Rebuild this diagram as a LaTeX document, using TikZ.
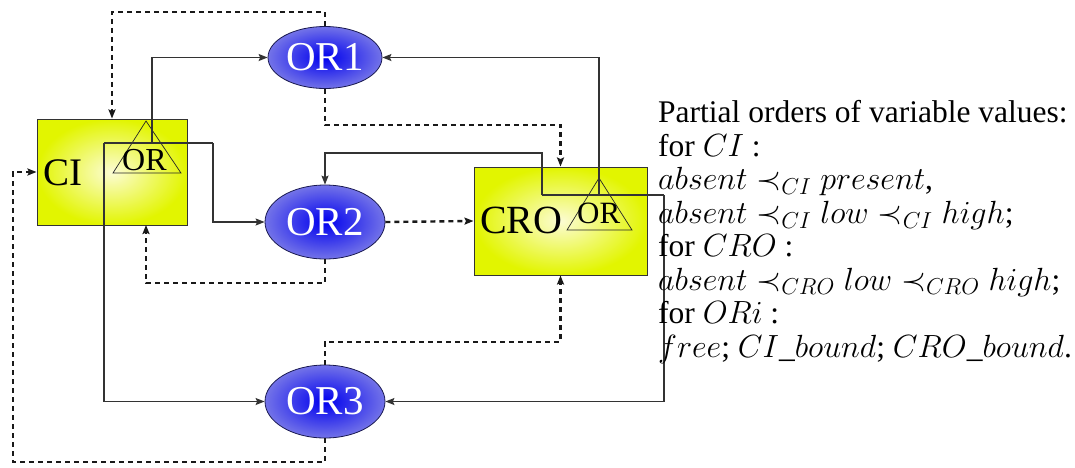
\RequirePackage{fix-cm}
\documentclass[tikz,border=0pt]{standalone}
\usepackage{fontspec}
\setmainfont{Liberation Serif}
\DeclareMathSizes{31.5}{32.1}{23}{17}
\usetikzlibrary{arrows.meta,shapes.geometric}
\begin{document}
\begin{tikzpicture}[x=1pt,y=-1pt,
  box/.style={rectangle, draw=black!80, line width=1pt, inner sep=0pt,
    inner color={rgb,255:red,252;green,252;blue,212},
    outer color={rgb,255:red,226;green,245;blue,0}},
  ell/.style={ellipse, draw={rgb,255:red,25;green,25;blue,80}, line width=0.8pt, inner sep=0pt,
    inner color={rgb,255:red,0;green,0;blue,238},
    outer color={rgb,255:red,115;green,115;blue,232},
    text=white, font=\fontsize{41}{41}\selectfont},
  lbl/.style={inner sep=0pt, anchor=base west, text=black},
  tri/.style={draw=black!85, line width=0.7pt},
  sol/.style={draw=black!80, line width=1.2pt, -{Stealth[length=9pt,width=7pt,inset=1.5pt]}},
  sollink/.style={draw=black!80, line width=1.2pt},
  dsh/.style={draw=black!90, line width=2.4pt, dash pattern=on 5pt off 4pt,
    -{Stealth[length=9pt,width=7pt,inset=1.5pt]}}
]
\useasboundingbox (0,0) rectangle (1075,467);

% boxes
\node[box, minimum width=150pt, minimum height=106pt] (ci) at (112,172) {};
\node[box, minimum width=173pt, minimum height=108pt] (cro) at (560.5,221) {};
\node[lbl, font=\fontsize{39}{39}\selectfont] (citxt) at (43,185) {CI};
\node[lbl, font=\fontsize{40}{40}\selectfont] (crotxt) at (480,233) {CRO};

% triangles with OR
\draw[tri] (146,121) -- (113,173) -- (181,173) -- cycle;
\node[lbl, font=\fontsize{32}{32}\selectfont] (ciortxt) at (122,170) {OR};
\draw[tri] (599,178) -- (567,230) -- (632,230) -- cycle;
\node[lbl, font=\fontsize{31}{31}\selectfont] (crortxt) at (577,223) {OR};

% ellipses
\node[ell, minimum width=114pt, minimum height=62pt] (or1) at (325,57.5) {OR1};
\node[ell, minimum width=120pt, minimum height=74pt] (or2) at (325,222) {OR2};
\node[ell, minimum width=120pt, minimum height=73pt] (or3) at (325,401.5) {OR3};

% fork coordinates
\coordinate (cif1) at (152,143);
\coordinate (cif2) at (104,143);
\coordinate (cif3) at (213,143);
\coordinate (crf1) at (599,195);
\coordinate (crf2) at (542,195);
\coordinate (crf3) at (664,195);
\coordinate (cib) at (146,225);

% solid connectors
\draw[sol] (cif1) |- (or1.west);
\draw[sollink] (cif2) -- (cif3);
\draw[sol] (cif3) |- (or2.west);
\draw[sol] (cif2) |- (or3.west);
\draw[sol] (crf1) |- (or1.east);
\draw[sollink] (crf2) -- (crf3);
\draw[sol] (crf3) |- (or3.east);
\draw[sol] (crf2) -- (542,153) -| (or2.north);

% dashed connectors
\draw[dsh] (or1.north) -- (325,12) -| (ci.north);
\draw[dsh] (or1.south) -- (325,125) -| (cro.north);
\draw[dsh] (or2.east) -- (cro.west);
\draw[dsh] (or2.south) -- (325,283) -| (cib);
\draw[dsh] (or3.north) -- (325,342) -| (cro.south);
\draw[dsh] (or3.south) -- (325,462) -- (13,462) -- (13,172) -- (ci.west);

% legend (base anchor = last line)
\node[anchor=base west, align=left, inner sep=0pt,
  font=\fontsize{31.5}{33.45}\selectfont] (legend) at (658,357)
  {Partial orders of variable values:\\
   for $CI$ :\\
   $absent \prec_{CI} present$,\\
   $absent \prec_{CI} low \prec_{CI} high$;\\
   for $CRO$ :\\
   $absent \prec_{CRO} low \prec_{CRO} high$;\\
   for $ORi$ :\\
   $free$; $CI\_bound$; $CRO\_bound$.};
\end{tikzpicture}
\end{document}
